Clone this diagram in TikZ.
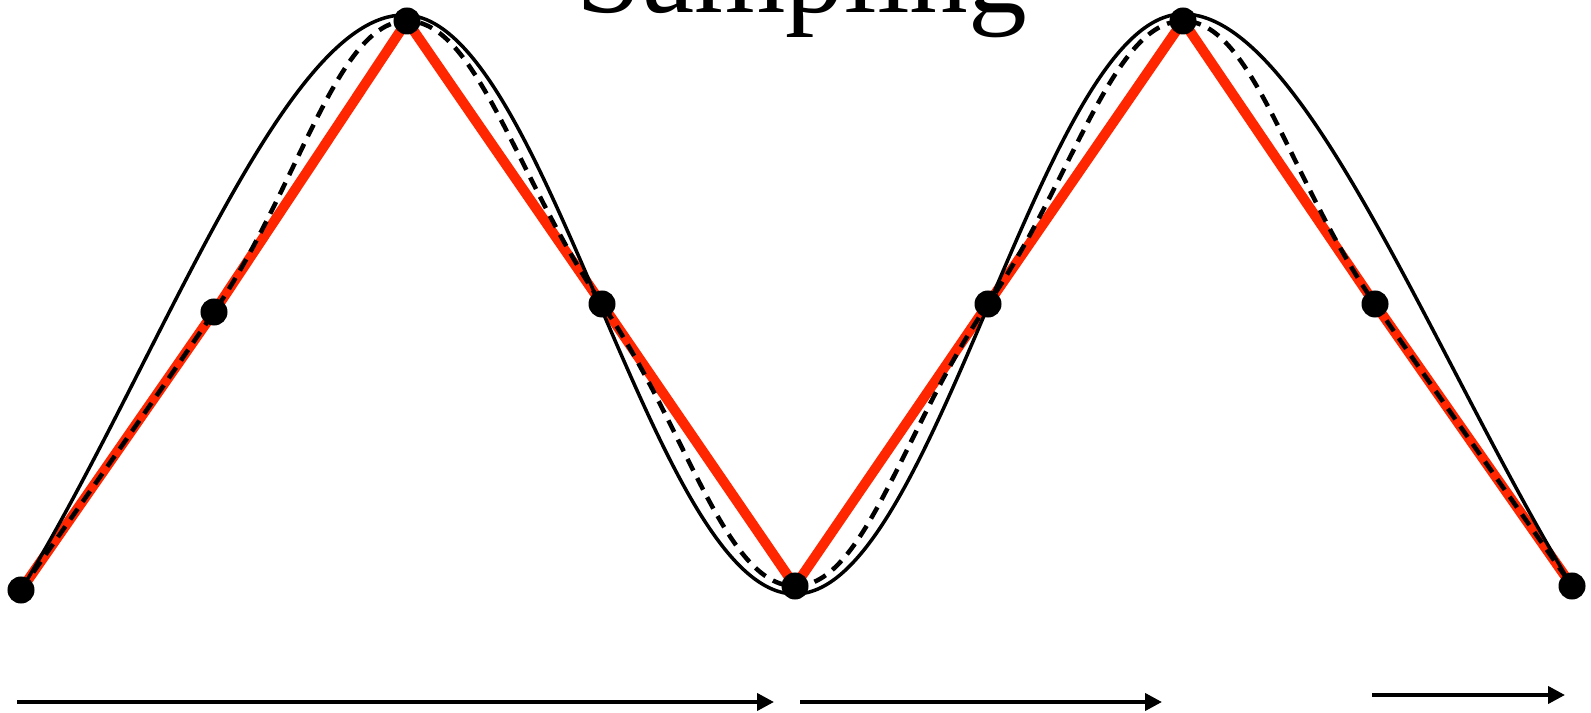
\documentclass[tikz,border=0pt]{standalone}
\usepackage{fontspec}
\setmainfont{Liberation Serif}
\usetikzlibrary{arrows.meta}
\definecolor{sampred}{RGB}{255,38,0}
\begin{document}
\begin{tikzpicture}[x=0.01cm, y=-0.01cm,
  dot/.style={circle, fill=black, inner sep=0pt, minimum size=0.27cm},
  redline/.style={draw=sampred, line width=0.1cm, line join=round},
  truecurve/.style={draw=black, line width=0.035cm},
  recon/.style={draw=black, line width=0.045cm, dash pattern=on 0.13cm off 0.085cm},
  axisarrow/.style={draw=black, line width=0.04cm, -{Triangle[length=0.17cm, width=0.17cm]}},
  titletext/.style={font=\fontsize{33.4}{40}\selectfont, anchor=base, inner sep=0pt}]
\useasboundingbox (0,0) rectangle (1591,713);

% sample points
\coordinate (P0) at (21,590);
\coordinate (P1) at (214,312);
\coordinate (P2) at (407,21);
\coordinate (P3) at (602,304);
\coordinate (P4) at (795,586);
\coordinate (P5) at (988,304);
\coordinate (P6) at (1183,21);
\coordinate (P7) at (1375,304);
\coordinate (P8) at (1572,586);

% extrema and zero crossings of the continuous signal
\coordinate (T1) at (404,15);
\coordinate (M1) at (599.5,304.5);
\coordinate (B1) at (795,594);
\coordinate (M2) at (989,304);
\coordinate (T2) at (1183,14);

% title
\node[titletext] (title) at (802,13) {Sampling};

% linear interpolation (red)
\draw[redline] (P0) -- (P1) -- (P2) -- (P3) -- (P4) -- (P5) -- (P6) -- (P7) -- (P8);

% smooth reconstruction (dashed)
\draw[recon] (P0) .. controls (75,512) and (129,437) .. (P1)
  .. controls (299,187) and (337,21) .. (P2)
  .. controls (477,21) and (517,180) .. (P3)
  .. controls (687,428) and (725,586) .. (P4)
  .. controls (865,586) and (903,428) .. (P5)
  .. controls (1073,180) and (1113,21) .. (P6)
  .. controls (1253,21) and (1289,180) .. (P7)
  .. controls (1461,428) and (1517,507) .. (P8);

% original signal (solid)
\draw[truecurve] (P0) .. controls (161,359) and (284,15) .. (T1)
  cos (M1) sin (B1) cos (M2) sin (T2)
  .. controls (1303,14) and (1432,355) .. (P8);

% sample dots
\foreach \i in {0,...,8} { \node[dot] (D\i) at (P\i) {}; }

% arrows
\coordinate (a1s) at (17,702);
\coordinate (a1e) at (774,702);
\coordinate (a2s) at (800,702);
\coordinate (a2e) at (1162,702);
\coordinate (a3s) at (1372,695);
\coordinate (a3e) at (1565,695);
\draw[axisarrow] (a1s) -- (a1e);
\draw[axisarrow] (a2s) -- (a2e);
\draw[axisarrow] (a3s) -- (a3e);
\end{tikzpicture}
\end{document}
